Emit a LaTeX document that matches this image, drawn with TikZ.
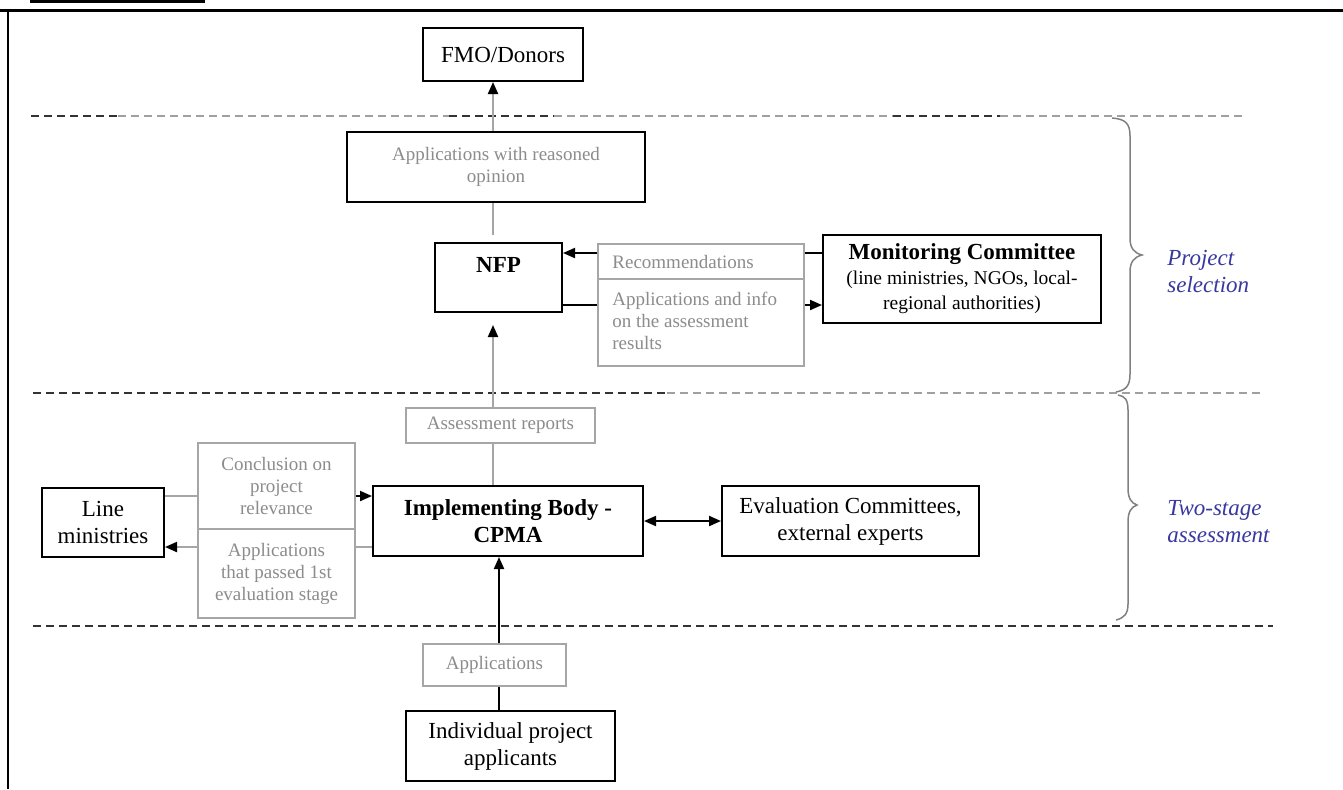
\documentclass[tikz,border=0pt]{standalone}
\usepackage{fontspec}
\setmainfont{Liberation Serif}
\usetikzlibrary{arrows.meta,calc}
\definecolor{gtext}{HTML}{8C8C8C}
\definecolor{gline}{HTML}{A6A6A6}
\definecolor{gdash}{HTML}{A0A0A0}
\definecolor{ddash}{HTML}{333333}
\definecolor{bluetxt}{HTML}{3838A0}
\definecolor{bracecol}{HTML}{808080}
\begin{document}
\begin{tikzpicture}[x=0.5pt,y=-0.5pt,
  sz/.style 2 args={minimum width=#1*0.5pt,minimum height=#2*0.5pt},
  blk/.style={draw=black,line width=1pt,inner sep=0pt,align=center,font=\fontsize{11.5}{13.5}\selectfont},
  gbx/.style={draw=gline,line width=0.75pt,inner sep=0pt,align=center,text=gtext,font=\fontsize{9.5}{11}\selectfont},
  gtxt/.style={inner sep=0pt,text=gtext,font=\fontsize{9.5}{11}\selectfont},
  bl/.style={draw=black,line width=1pt},
  gl/.style={draw=gline,line width=1pt},
  arr/.style={-{Triangle[length=6pt,width=5pt,color=black]}},
  dblarr/.style={{Triangle[length=6pt,width=5pt,color=black]}-{Triangle[length=6pt,width=5pt,color=black]}},
  dd/.style={draw=ddash,line width=1pt,dash pattern=on 4pt off 2.5pt},
  gd/.style={draw=gdash,line width=1pt,dash pattern=on 4pt off 2.5pt},
  brc/.style={draw=bracecol,line width=0.75pt},
  bluet/.style={inner sep=0pt,text=bluetxt,align=left,font=\fontsize{11.5}{13.5}\selectfont\itshape}
]
\fill[white] (0,0) rectangle (1343,789);
\useasboundingbox (0,0) rectangle (1343,789);

% frame
\fill[black] (30,0) rectangle (205,3);
\draw[line width=1.5pt] (0,10.5) -- (1343,10.5);
\draw[line width=1pt] (7.5,10) -- (7.5,789);

% dashed separators
\draw[dd] (31,116) -- (118,116);
\draw[gd] (118,116) -- (449,116);
\draw[dd] (449,116) -- (554,116);
\draw[gd] (554,116) -- (893,116);
\draw[dd] (893,116) -- (1000,116);
\draw[gd] (1000,116) -- (1245,116);
\draw[dd] (33,393) -- (667,393);
\draw[gd] (667,393) -- (1262,393);
\draw[dd] (33,626) -- (1273,626);

% braces
\draw[brc] (1112,118) .. controls (1126,119) and (1130,124) .. (1130,136) -- (1130,238) .. controls (1130,248) and (1134,253) .. (1142,255) .. controls (1134,257) and (1130,262) .. (1130,272) -- (1130,374) .. controls (1130,386) and (1126,390) .. (1116,392);
\draw[brc] (1118,395) .. controls (1125,396) and (1128,400) .. (1128,410) -- (1128,488) .. controls (1128,498) and (1131,503) .. (1137,505) .. controls (1131,507) and (1128,512) .. (1128,522) -- (1128,604) .. controls (1128,614) and (1124,618) .. (1116,620);
\node[bluet,anchor=west] (ps) at (1167,271) {Project\\selection};
\node[bluet,anchor=west] (ts) at (1167,522) {Two-stage\\assessment};

% boxes
\node[blk,sz={160}{53}] (fmo) at (503,54.5) {FMO/Donors};
\node[blk,sz={298}{70},text=gtext,font=\fontsize{9.5}{11}\selectfont] (reas) at (496,167) {Applications with reasoned\\opinion};
\node[blk,sz={127}{69}] (nfp) at (498.5,277.5) {};
\node[inner sep=0pt,font=\fontsize{11.5}{13.5}\selectfont\bfseries] (nfpT) at (498.5,265) {NFP};
\node[gbx,sz={206}{35}] (rec) at (701,261.5) {};
\node[gtxt,anchor=west] (recT) at (612,262) {Recommendations};
\node[gbx,sz={206}{87}] (appinfo) at (701,322.5) {};
\node[gtxt,anchor=west,align=left] (appinfoT) at (612,321) {Applications and info\\on the assessment\\results};
\node[blk,sz={278}{88},font=\fontsize{9.75}{12.5}\selectfont] (mon) at (962,279) {{\fontsize{11.5}{12.5}\selectfont\bfseries Monitoring Committee}\\(line ministries, NGOs, local-\\regional authorities)};
\node[gbx,sz={189}{35}] (assess) at (500.5,425.5) {Assessment reports};
\node[blk,sz={122}{69}] (lm) at (103,522.5) {Line\\ministries};
\node[gbx,sz={157}{86}] (concl) at (276.5,486) {Conclusion on\\project\\relevance};
\node[gbx,sz={157}{89}] (apass) at (276.5,573.5) {Applications\\that passed 1st\\evaluation stage};
\node[blk,sz={270}{70},font=\fontsize{11.5}{13.5}\selectfont\bfseries] (impl) at (508,521) {Implementing Body -\\CPMA};
\node[blk,sz={257}{70}] (eval) at (850.5,521) {Evaluation Committees,\\external experts};
\node[gbx,sz={143}{42}] (appl) at (494.5,665) {Applications};
\node[blk,sz={209}{70}] (indiv) at (510.5,746) {Individual project\\applicants};

% connector guides
\coordinate (cx) at (493,0);
\coordinate (cx2) at (499,0);
\coordinate (yA) at (0,253);
\coordinate (yB) at (0,305);
\coordinate (yC) at (0,496);
\coordinate (yD) at (0,547);
\coordinate (yE) at (0,521);

% vertical connectors
\draw[gl,arr] (reas.north -| cx) -- (fmo.south -| cx);
\draw[gl,shorten >=3.5pt] (reas.south -| cx) -- (nfp.north -| cx);
\draw[gl,arr,shorten >=6pt] (assess.north -| cx) -- (nfp.south -| cx);
\draw[gl] (impl.north -| cx) -- (assess.south -| cx);
\draw[bl,arr] (appl.north -| cx2) -- (impl.south -| cx2);
\draw[bl] (indiv.north -| cx2) -- (appl.south -| cx2);

% horizontal connectors
\draw[bl,arr] (rec.west |- yA) -- (nfp.east |- yA);
\draw[bl] (rec.east |- yA) -- (mon.west |- yA);
\draw[bl] (nfp.east |- yB) -- (appinfo.west |- yB);
\draw[bl,arr] (appinfo.east |- yB) -- (mon.west |- yB);
\draw[gl] (lm.east |- yC) -- (concl.west |- yC);
\draw[bl,arr] (concl.east |- yC) -- (impl.west |- yC);
\draw[gl] (impl.west |- yD) -- (apass.east |- yD);
\draw[gl,arr] (apass.west |- yD) -- (lm.east |- yD);
\draw[bl,dblarr] (impl.east |- yE) -- (eval.west |- yE);
\end{tikzpicture}
\end{document}
